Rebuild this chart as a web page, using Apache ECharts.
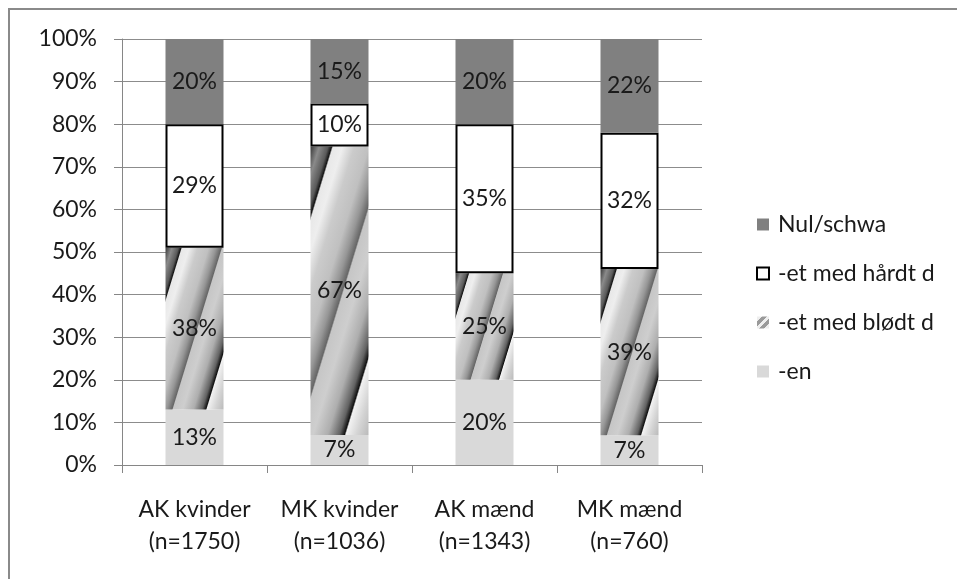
<!DOCTYPE html>
<html>
<head>
<meta charset="utf-8">
<script src="https://cdn.jsdelivr.net/npm/echarts@6/dist/echarts.min.js"></script>
<style>
  html, body { margin: 0; padding: 0; background: #fff; }
  #chart { width: 957px; height: 579px; }
</style>
</head>
<body>
<div id="chart"></div>
<script>
// categories and shares (percent, as printed on the bars)
const categories = ['AK kvinder\n(n=1750)', 'MK kvinder\n(n=1036)', 'AK mænd\n(n=1343)', 'MK mænd\n(n=760)'];
const enVals = [13, 7, 20, 7];
const bloedtVals = [38, 67, 25, 39];
const haardtVals = [29, 10, 35, 32];
const nulVals = [20, 15, 20, 22];
const yTicks = [0, 10, 20, 30, 40, 50, 60, 70, 80, 90, 100];

const FONT = 'Lato';
const TEXT = '#1a1a1a';
const FS = 23;
const GRID_H = 426;
const BAR_W = 58;

// 100% stacked: each column is scaled to its own total
const totals = categories.map((_, i) => enVals[i] + bloedtVals[i] + haardtVals[i] + nulVals[i]);
const norm = arr => arr.map((v, i) => v / totals[i] * 100);

// diagonal gray/white/black gradient, stretched over each segment like the office fill
function bandFill(pct) {
    const h = pct / 100 * GRID_H;
    const ang = 73 * Math.PI / 180;
    const nx = Math.sin(ang), ny = Math.cos(ang);
    const L = BAR_W * nx + h * ny;
    return new echarts.graphic.LinearGradient(0, 0, nx * L / BAR_W, ny * L / h, [
        { offset: 0.00, color: '#3a3a3a' },
        { offset: 0.06, color: '#8a8a8a' },
        { offset: 0.12, color: '#5a5a5a' },
        { offset: 0.145, color: '#151515' },
        { offset: 0.155, color: '#e8e8e8' },
        { offset: 0.22, color: '#eeeeee' },
        { offset: 0.30, color: '#cbcbcb' },
        { offset: 0.40, color: '#c0c0c0' },
        { offset: 0.47, color: '#969696' },
        { offset: 0.52, color: '#666666' },
        { offset: 0.53, color: '#c6c6c6' },
        { offset: 0.62, color: '#cecece' },
        { offset: 0.72, color: '#aeaeae' },
        { offset: 0.80, color: '#626262' },
        { offset: 0.835, color: '#111111' },
        { offset: 0.845, color: '#f2f2f2' },
        { offset: 0.92, color: '#d4d4d4' },
        { offset: 1.00, color: '#bababa' }
    ]);
}

const legendHatch = new echarts.graphic.LinearGradient(0, 0, 1, 1, [
    { offset: 0, color: '#eeeeee' }, { offset: 0.2, color: '#eeeeee' },
    { offset: 0.2, color: '#9a9a9a' }, { offset: 0.4, color: '#9a9a9a' },
    { offset: 0.4, color: '#eeeeee' }, { offset: 0.6, color: '#eeeeee' },
    { offset: 0.6, color: '#9a9a9a' }, { offset: 0.8, color: '#9a9a9a' },
    { offset: 0.8, color: '#eeeeee' }, { offset: 1, color: '#eeeeee' }
]);

const label = raw => ({
    show: true,
    position: 'inside',
    color: TEXT,
    fontFamily: FONT,
    fontSize: FS,
    formatter: p => raw[p.dataIndex] + '%'
});

const chart = echarts.init(document.getElementById('chart'), null, { renderer: 'canvas' });

chart.setOption({
    animation: false,
    backgroundColor: '#ffffff',
    textStyle: { fontFamily: FONT },
    graphic: [{
        type: 'polyline',
        shape: { points: [[9, 579], [9, 9], [957, 9]] },
        style: { stroke: '#8a8a8a', lineWidth: 2, fill: null },
        silent: true
    }],
    legend: {
        orient: 'vertical',
        left: 751,
        top: 208,
        icon: 'rect',
        itemWidth: 12,
        itemHeight: 12,
        itemGap: 26,
        data: ['Nul/schwa', '-et med hårdt d', '-et med blødt d', '-en'],
        textStyle: { color: TEXT, fontFamily: FONT, fontSize: FS, padding: [0, 0, 0, 4] }
    },
    grid: { left: 122, top: 39, width: 580, height: GRID_H, containLabel: false },
    xAxis: {
        type: 'category',
        data: categories,
        axisLine: { lineStyle: { color: '#868686', width: 1 } },
        axisTick: { show: true, length: 8, alignWithLabel: false, lineStyle: { color: '#868686' } },
        axisLabel: { color: TEXT, fontFamily: FONT, fontSize: FS, lineHeight: 32, margin: 29, interval: 0 }
    },
    yAxis: {
        type: 'value',
        min: yTicks[0],
        max: yTicks[yTicks.length - 1],
        interval: 10,
        axisLine: { show: true, lineStyle: { color: '#868686', width: 1 } },
        axisTick: { show: true, inside: false, length: 8, lineStyle: { color: '#868686', width: 1 } },
        axisLabel: { color: TEXT, fontFamily: FONT, fontSize: FS, margin: 25, formatter: '{value}%' },
        splitLine: { lineStyle: { color: '#8c8c8c', width: 1 } }
    },
    series: [
        {
            name: '-en', type: 'bar', stack: 'all', barWidth: BAR_W,
            itemStyle: { color: '#d9d9d9' },
            label: label(enVals),
            data: norm(enVals)
        },
        {
            name: '-et med blødt d', type: 'bar', stack: 'all', barWidth: BAR_W,
            itemStyle: { color: legendHatch },
            label: label(bloedtVals),
            data: norm(bloedtVals).map(v => ({ value: v, itemStyle: { color: bandFill(v) } }))
        },
        {
            name: '-et med hårdt d', type: 'bar', stack: 'all', barWidth: BAR_W,
            itemStyle: { color: '#ffffff', borderColor: '#000000', borderWidth: 2 },
            label: label(haardtVals),
            data: norm(haardtVals)
        },
        {
            name: 'Nul/schwa', type: 'bar', stack: 'all', barWidth: BAR_W,
            itemStyle: { color: '#808080' },
            label: label(nulVals),
            data: norm(nulVals)
        }
    ]
});
</script>
</body>
</html>
